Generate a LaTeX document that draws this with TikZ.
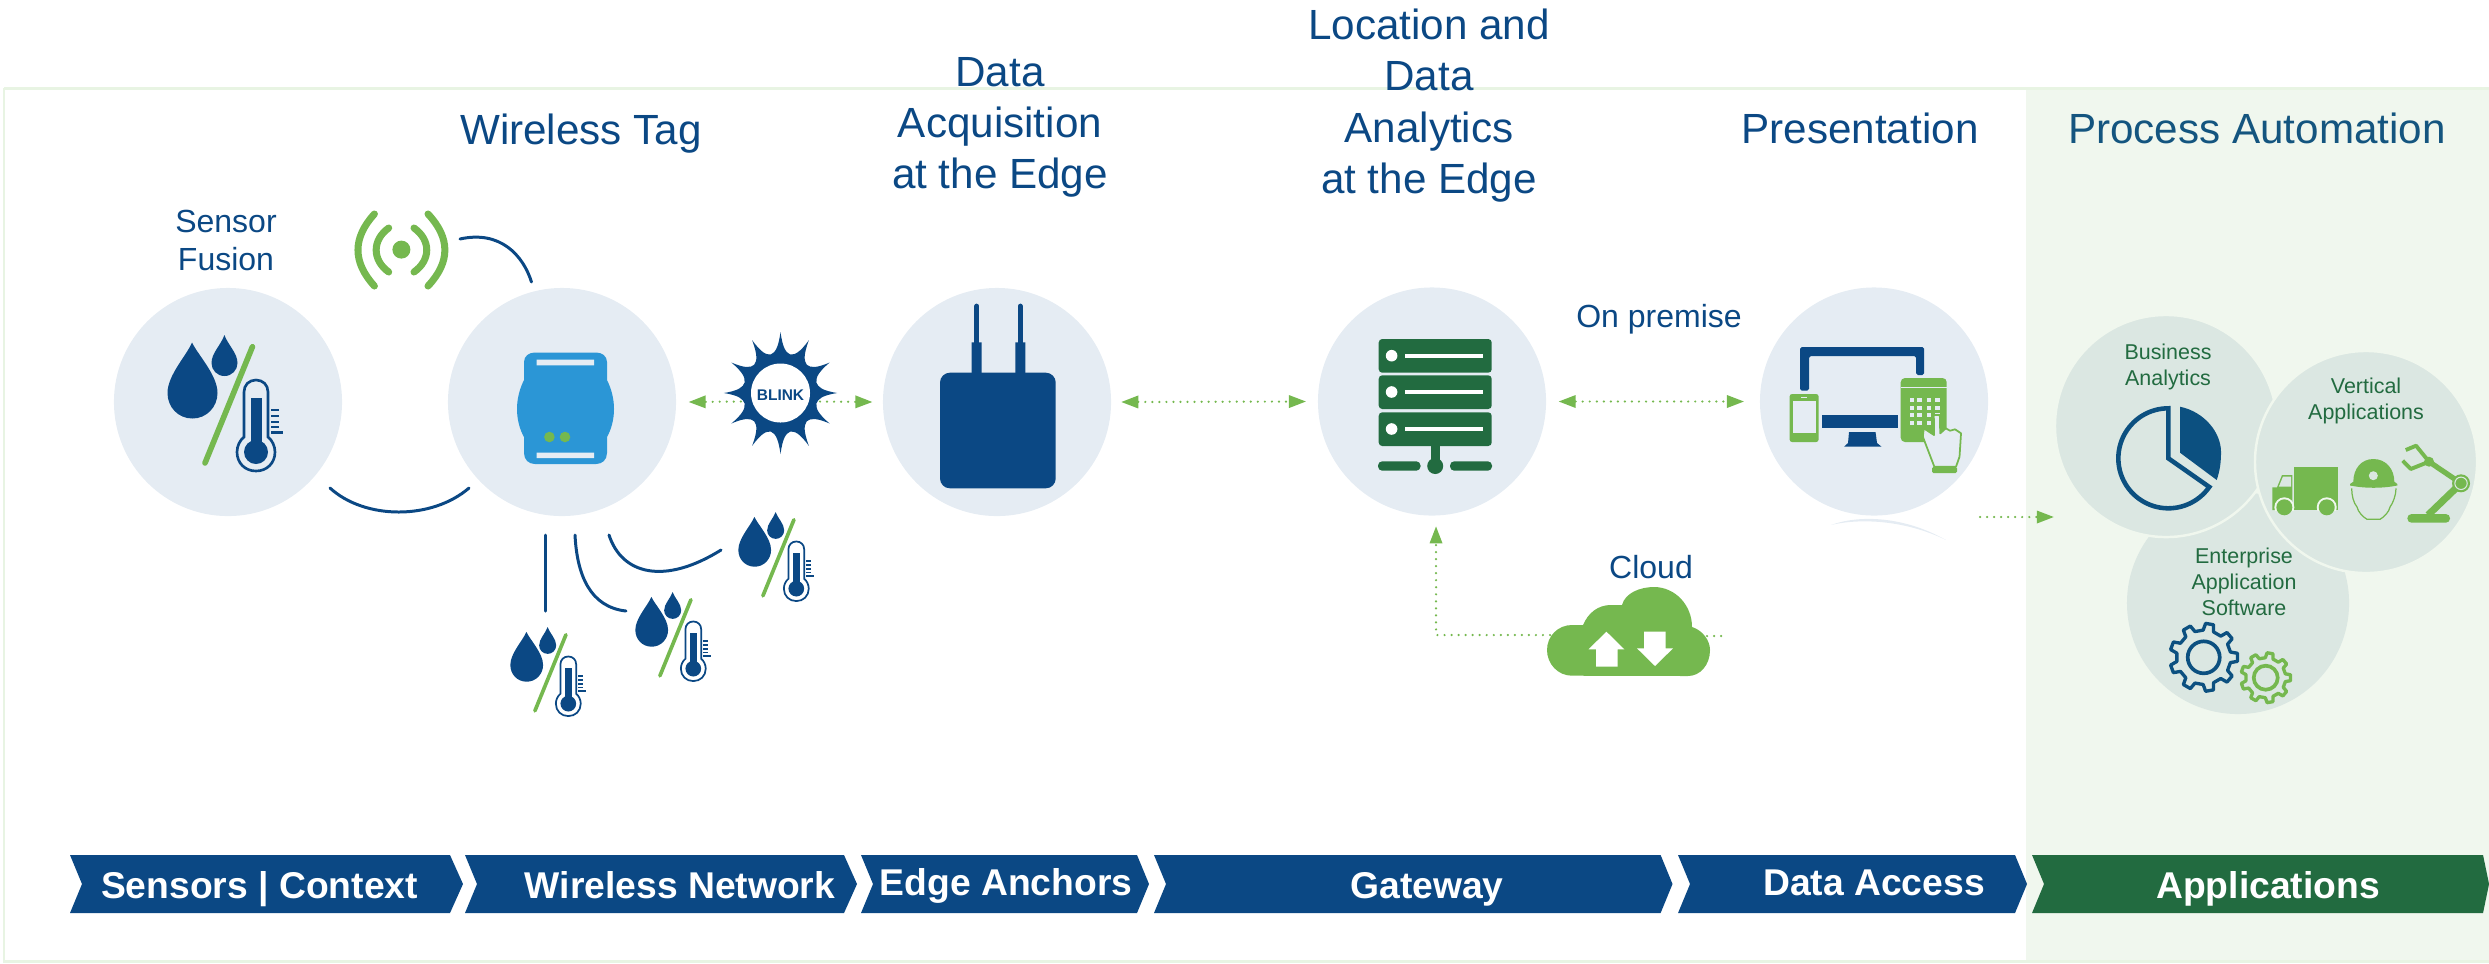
\documentclass[tikz,border=0pt]{standalone}
\usepackage{fontspec}
\setmainfont{Liberation Sans}
\usetikzlibrary{arrows.meta}
\definecolor{navy}{HTML}{0B4884}
\definecolor{lgreen}{HTML}{75B84F}
\definecolor{dgreen}{HTML}{226B40}
\definecolor{bgcirc}{HTML}{E5ECF3}
\definecolor{appcirc}{HTML}{DBE7E2}
\definecolor{panel}{HTML}{F0F7EE}
\definecolor{frameline}{HTML}{E8F4E3}
\definecolor{tagblue}{HTML}{2B96D6}
\definecolor{pienavy}{HTML}{0C5080}
\definecolor{procblue}{HTML}{14557F}
\newcommand\sensoricon[3]{%
\begin{scope}[shift={(#1,#2)},scale=#3]
\fill[navy] (25,7.5) .. controls (20,20) and (0.5,40) .. (0.5,58) .. controls (0.5,72) and (11,83.5) .. (25.5,83.5) .. controls (39.5,83.5) and (50.5,72) .. (50.5,58) .. controls (50.5,40) and (31,20) .. (25,7.5) -- cycle;
\fill[navy] (57.4,0) .. controls (54,10) and (44.5,18) .. (44.5,28) .. controls (44.5,35) and (50,41) .. (57.5,41) .. controls (65,41) and (70.5,35) .. (70.5,28) .. controls (70.5,18) and (61,10) .. (57.4,0) -- cycle;
\draw[lgreen,line width=#3*1.6pt,line cap=round] (85.4,11.8) -- (38,128);
\draw[navy,line width=#3*.75pt] (77,57) .. controls (77,50) and (82,45) .. (89,45) .. controls (96,45) and (101,50) .. (101,57) -- (101,102) .. controls (105,105) and (108,111) .. (108,117) .. controls (108,128) and (100,136) .. (89,136) .. controls (78,136) and (70,128) .. (70,117) .. controls (70,111) and (73,105) .. (77,102) -- cycle;
\fill[navy] (83.5,63) rectangle (94.5,110);
\fill[navy] (89,117) circle[radius=12];
\foreach \ty/\tx in {75/112,81/112,87/112,92/112,97.5/116}{\draw[navy,line width=#3*.6pt] (104,\ty) -- (\tx,\ty);}
\end{scope}}
\newcommand\gearicon[6]{% x y R r n colour
\begin{scope}[shift={(#1,#2)}]
\pgfmathsetmacro\gs{360/#5}
\pgfmathsetmacro\gv{#3*.8}
\draw[#6,line width=.95pt,line join=round] (-.28*\gs:\gv) \foreach \ga in {1,...,#5}{ -- ({(\ga-1)*\gs-.17*\gs}:#3) -- ({(\ga-1)*\gs+.17*\gs}:#3) -- ({(\ga-1)*\gs+.28*\gs}:\gv) -- ({\ga*\gs-.28*\gs}:\gv)} -- cycle;
\draw[#6,line width=1.05pt] (0,0) circle[radius=#4];
\end{scope}}
\tikzset{
 unitcirc/.style={circle,fill=bgcirc,inner sep=0pt,minimum size=2.28cm},
 appc/.style={circle,fill=appcirc,inner sep=0pt,minimum size=2.22cm},
 head/.style={text=navy,align=center,font=\fontsize{12pt}{14.6pt}\selectfont,inner sep=0pt},
 midhead/.style={text=navy,align=center,font=\fontsize{9.1pt}{10.8pt}\selectfont,inner sep=0pt},
 apptext/.style={text=dgreen,align=center,font=\fontsize{6.1pt}{7.4pt}\selectfont,inner sep=0pt},
 barlabel/.style={text=white,anchor=base,font=\bfseries\fontsize{10.6pt}{12pt}\selectfont,inner sep=0pt},
 link/.style={navy,line width=.85pt,line cap=round},
 dots/.style={lgreen,line width=.7pt,line cap=round,dash pattern=on 0pt off 2pt},
 tipg/.tip={Triangle[length=4.8pt,width=3.7pt,fill=lgreen,line width=0pt]},
 chevn/.style={fill=navy},
 chevg/.style={fill=dgreen},
}
\begin{document}
\begin{tikzpicture}[x=.01cm,y=-.01cm]
\useasboundingbox (0,0) rectangle (2489,963);
% backgrounds
\fill[panel] (2026,87) rectangle (2489,963);
\draw[frameline,line width=.85pt] (4,88) -- (2489,88) (4,88) -- (4,961) -- (2489,961);
% circles
\node[unitcirc] (sensor) at (228,402) {};
\node[unitcirc] (tag) at (562,402) {};
\node[unitcirc] (anchorc) at (997,402) {};
\node[unitcirc] (gateway) at (1432,401.5) {};
\node[unitcirc] (pres) at (1874,401.5) {};
\fill[bgcirc] (1831,525) .. controls (1855,516) and (1900,514) .. (1946,540) .. controls (1905,520) and (1860,518) .. (1831,525) -- cycle;
\node[appc] (enterprise) at (2238,603) {};
\node[appc,draw=panel,line width=.7pt] (business) at (2166,426) {};
\node[appc,draw=panel,line width=.7pt] (vertical) at (2366,462) {};
% headers
\node[head,anchor=base] (hTag) at (581,144.5) {Wireless Tag};
\node[head] (hData) at (1000,127.5) {Data\\Acquisition\\at the Edge};
\node[head] (hLoc) at (1429,105.5) {Location and\\Data\\Analytics\\at the Edge};
\node[head,anchor=base] (hPres) at (1860,143) {Presentation};
\node[head,anchor=base,text=procblue] (hProc) at (2257,143) {Process Automation};
\node[midhead] (hFusion) at (226,240) {Sensor\\Fusion};
\node[midhead,anchor=base] (hPrem) at (1659,327.5) {On premise};
\node[midhead,anchor=base] (hCloud) at (1651,578) {Cloud};
\node[apptext] (tBus) at (2168,367) {Business\\Analytics};
\node[apptext] (tVert) at (2366,401) {Vertical\\Applications};
\node[apptext] (tEnt) at (2244,582) {Enterprise\\Application\\Software};
% sensor icons
\sensoricon{167}{335}{1}
\sensoricon{738}{512}{.655}
\sensoricon{635}{592}{.655}
\sensoricon{510}{627}{.655}
% wireless icon
\node[circle,fill=lgreen,inner sep=0pt,minimum size=.18cm] (wifi) at (401.4,249.6) {};
\draw[lgreen,line width=2pt,line cap=round]
 (388.7,228) .. controls (372,240) and (372,260) .. (388.7,272)
 (414,228) .. controls (431,240) and (431,260) .. (414,272)
 (374.4,214) .. controls (352.5,238) and (352.5,262) .. (374.4,286)
 (428,214) .. controls (450.5,238) and (450.5,262) .. (428,286);
% curves
\coordinate (wifiEnd) at (460,239);
\coordinate (tagTop) at (531.5,282);
\draw[link] (wifiEnd) .. controls (500,230) and (523,255) .. (tagTop);
\coordinate (sensorLow) at (330,488);
\coordinate (tagLow) at (469,488);
\draw[link] (sensorLow) .. controls (365,520) and (432,520) .. (tagLow);
\coordinate (t1) at (545,535); \coordinate (s1) at (545,611);
\coordinate (t2) at (575,535); \coordinate (s2) at (626,611);
\coordinate (t3) at (609,535); \coordinate (s3) at (721,550);
\draw[link] (t1) -- (s1);
\draw[link] (t2) .. controls (577,575) and (590,607) .. (s2);
\draw[link] (t3) .. controls (622,575) and (665,585) .. (s3);
% tag device
\fill[tagblue] (524,362) .. controls (524,356) and (529,352.5) .. (535,352.5) -- (596,352.5) .. controls (602,352.5) and (607,356) .. (607,362) -- (607,380) .. controls (611,388) and (614,398) .. (614,409) .. controls (614,420) and (611,430) .. (607,437) -- (607,453) .. controls (607,460) and (602,464) .. (596,464) -- (535,464) .. controls (529,464) and (524,460) .. (524,453) -- (524,437) .. controls (520,430) and (517,420) .. (517,409) .. controls (517,398) and (520,388) .. (524,380) -- cycle;
\fill[bgcirc] (536.6,359.6) rectangle (594,365.4) (536.6,452.5) rectangle (594,458);
\fill[lgreen] (549.4,437) circle[radius=5.3] (565,437) circle[radius=5.3];
% blink
\begin{scope}[shift={(780.5,393)},xscale=.93]
\fill[navy] (90:61) \foreach \a in {90,120,...,420}{ .. controls ({\a+3}:45) and ({\a+8}:41) .. ({\a+15}:40) .. controls ({\a+22}:41) and ({\a+27}:45) .. ({\a+30}:61)} -- cycle;
\end{scope}
\fill[white] (780.5,393) circle[radius=29.5];
\node[text=navy,anchor=base,inner sep=0pt,font=\bfseries\fontsize{4.4pt}{5pt}\selectfont] (blink) at (780.5,400) {BLINK};
% router
\fill[navy,rounded corners=2.8pt] (940,372.7) rectangle (1055.7,488.3);
\fill[navy] (971.7,342.3) rectangle (981.7,373) (1015.3,342.3) rectangle (1025.3,373);
\draw[navy,line width=1.35pt,line cap=round] (976.7,306) -- (976.7,343) (1020.3,306) -- (1020.3,343);
% green arrows
\coordinate (blinkL) at (741,401.5);
\coordinate (blinkR) at (820,401.5);
\draw[dots,{tipg}-] ([xshift=.12cm]tag.east) -- (blinkL);
\draw[dots,-{tipg}] (blinkR) -- ([xshift=-.1cm]anchorc.west);
\draw[dots,{tipg}-{tipg}] ([xshift=.096cm]anchorc.east) -- ([xshift=-.114cm]gateway.west);
\draw[dots,{tipg}-{tipg}] ([xshift=.12cm]gateway.east) -- ([xshift=-.154cm]pres.west);
\coordinate (cloudL) at (1550,635);
\coordinate (cloudR) at (1707,636);
\coordinate (cloudS) at (1727,636);
\draw[dots,-{tipg}] (cloudL) -| ([shift={(.04cm,-.102cm)}]gateway.south);
\draw[dots] (cloudR) -- (cloudS);
\coordinate (presOut) at (1980,517);
\draw[dots,-{tipg}] (presOut) -- (presOut -| business.west);
% server
\foreach \yy in {339,375.3,412.3}{
 \fill[dgreen,rounded corners=1pt] (1378.7,\yy) rectangle (1491.7,\yy+33.7);
 \fill[white] (1391.6,\yy+16.7) circle[radius=5.8];
 \fill[white] (1405.3,\yy+14.7) rectangle (1483,\yy+18.7);
}
\fill[dgreen] (1430.6,446) rectangle (1440,463);
\fill[dgreen] (1435.2,466) circle[radius=8];
\fill[dgreen,rounded corners=1.2pt] (1378,461.3) rectangle (1420.5,470.7);
\fill[dgreen,rounded corners=1.2pt] (1450,461.3) rectangle (1492,470.7);
% presentation devices
\fill[navy,rounded corners=.5pt] (1800,390.7) -- (1800,347) -- (1924,347) -- (1924,375) -- (1916,375) -- (1916,356) -- (1809,356) -- (1809,390.7) -- cycle;
\fill[navy] (1821.8,415) rectangle (1898,428);
\fill[navy] (1849,432) -- (1875.5,432) -- (1877,443) -- (1881.5,446.7) -- (1844,446.7) -- (1848,443) -- cycle;
\fill[lgreen,rounded corners=.7pt] (1789.6,394) rectangle (1818.6,442);
\fill[bgcirc] (1793,401) rectangle (1816,433);
\fill[bgcirc] (1801,397) rectangle (1807,398);
\fill[lgreen,rounded corners=1.2pt] (1900.7,378) rectangle (1946.7,442);
\fill[bgcirc] (1900.7,387) rectangle (1946.7,388.4);
\foreach \kx in {1912,1919.6,1928.8,1937.5}{\foreach \ky in {400,407.7,415,422.7}{
 \fill[bgcirc] (\kx-2.2,\ky-2.2) rectangle (\kx+2.2,\ky+2.2);}}
\draw[lgreen,fill=bgcirc,line width=.5pt,line join=round] (1933.8,415) -- (1939.8,415) -- (1940.2,433.3) -- (1945.8,428.3) -- (1950,430.7) -- (1955,429.3) -- (1961,433.3) -- (1959.5,456.7) -- (1956,466.7) -- (1934.3,466.7) -- (1922.8,436.7) -- (1923.7,428.3) -- (1934,435) -- cycle;
\fill[lgreen,rounded corners=.4pt] (1932,467) rectangle (1957,473);
% cloud
\fill[lgreen] (1572,675.7) .. controls (1558,675.7) and (1547,664) .. (1547,650) .. controls (1547,636) and (1558,625) .. (1572,625) -- (1583,625) .. controls (1588,613) and (1598,605) .. (1610.6,605) -- (1622,605) .. controls (1625,593) and (1640,587) .. (1654,587) .. controls (1675,587) and (1692,605) .. (1692,627) .. controls (1702,630) and (1710,640) .. (1710,650) .. controls (1710,665) and (1700,676) .. (1688,676) -- cycle;
\fill[white] (1606.4,631.7) -- (1624.3,649.3) -- (1617.5,649.3) -- (1617.5,666.7) -- (1596,666.7) -- (1596,649.3) -- (1588.5,649.3) -- cycle;
\fill[white] (1644,631.7) -- (1665.7,631.7) -- (1665.7,648.3) -- (1673,648.3) -- (1655,666) -- (1637,648.3) -- (1644,648.3) -- cycle;
% pie
\draw[pienavy,line width=1.3pt,line join=miter] (2168.3,458.3) -- plot[domain=-90:-325,samples=60] ({2168.3+50*cos(\x)},{458.3+50*sin(\x)}) -- cycle;
\fill[pienavy] (2180,406.7) .. controls (2205,412) and (2221,433) .. (2221,452) .. controls (2221,462) and (2220,470) .. (2216.7,480) -- (2180,452.7) -- cycle;
% truck
\fill[lgreen] (2294,467.3) rectangle (2337.7,510);
\fill[lgreen] (2272.3,487.3) -- (2277,487.3) -- (2282,475) -- (2292.3,475) -- (2292.3,510) -- (2272.3,510) -- cycle;
\fill[appcirc] (2278.8,486.7) -- (2283,476.5) -- (2291.2,476.5) -- (2291.2,486.7) -- cycle;
\begin{scope}
\clip (2270,460) rectangle (2340,510);
\fill[panel] (2284.3,507.3) circle[radius=10] (2326.7,507.3) circle[radius=10];
\end{scope}
\fill[lgreen] (2284.3,507.3) circle[radius=8] (2326.7,507.3) circle[radius=8];
% helmet
\fill[lgreen] (2353.3,481.7) .. controls (2353.3,469) and (2361,459) .. (2373.3,459) .. controls (2386,459) and (2394.3,469) .. (2394.3,481.7) -- (2397.3,484) -- (2397.3,485.5) .. controls (2382,488.5) and (2365,488.5) .. (2350,485.5) -- (2350,484) -- cycle;
\fill[appcirc] (2373.3,475.7) circle[radius=4.5];
\draw[lgreen,line width=.35pt] (2351.7,488.3) .. controls (2351.5,495) and (2353.5,503) .. (2357,507) .. controls (2358,512) and (2363,517) .. (2367,519.3) -- (2380,519.3) .. controls (2384,517) and (2389,512) .. (2390,507) .. controls (2393,503) and (2396,495) .. (2396,488.3);
% robot
\fill[lgreen,rounded corners=1.2pt] (2407.3,514) rectangle (2450,522.7);
\draw[lgreen,line width=2pt] (2428,515) -- (2461,483.3);
\draw[lgreen,line width=1.5pt] (2461,483.3) -- (2429,461.7);
\draw[lgreen,line width=1.1pt,line join=round] (2405.7,450) -- (2416,445.7) -- (2429,461.7) -- (2410.7,469) -- (2402.7,460.7);
\fill[lgreen] (2429,461.7) circle[radius=5];
\fill[lgreen] (2461,483.3) circle[radius=9];
\draw[appcirc,line width=.3pt] (2461,483.3) circle[radius=6.2];
% gears
\gearicon{2203.7}{657.3}{34}{16}{9}{pienavy}
\gearicon{2265.7}{677.7}{25}{12}{9}{lgreen}
% bar
\fill[chevn] (70,855) -- (450,855) -- (463,884) -- (450,913) -- (70,913) -- (82,884) -- cycle;
\fill[chevn] (465,855) -- (844,855) -- (857,884) -- (844,913) -- (465,913) -- (477,884) -- cycle;
\fill[chevn] (861,855) -- (1137,855) -- (1149,884) -- (1137,913) -- (861,913) -- (873,884) -- cycle;
\fill[chevn] (1154,855) -- (1660.6,855) -- (1672.5,884) -- (1660.6,913) -- (1154,913) -- (1166,884) -- cycle;
\fill[chevn] (1678,855) -- (2015,855) -- (2027,884) -- (2015,913) -- (1678,913) -- (1690,884) -- cycle;
\fill[chevg] (2032,855) -- (2483,855) -- (2489,884) -- (2483,913) -- (2032,913) -- (2044,884) -- cycle;
\node[barlabel] (b1) at (259.5,898) {Sensors | Context};
\node[barlabel] (b2) at (680,898) {Wireless Network};
\node[barlabel] (b3) at (1006,895) {Edge Anchors};
\node[barlabel] (b4) at (1427,898) {Gateway};
\node[barlabel] (b5) at (1874,895) {Data Access};
\node[barlabel] (b6) at (2268,898) {Applications};
\end{tikzpicture}
\end{document}
